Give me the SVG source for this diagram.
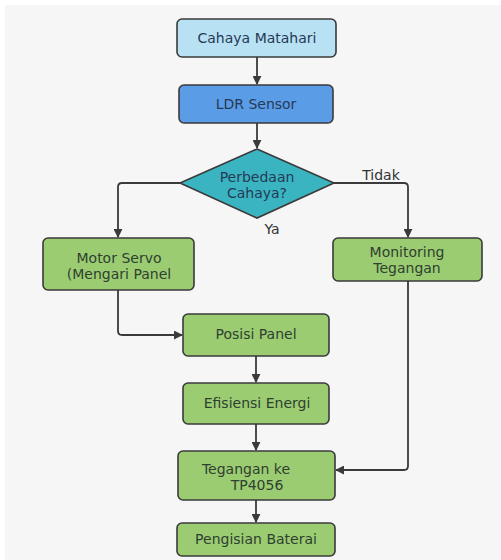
<svg xmlns="http://www.w3.org/2000/svg" width="501" height="560" viewBox="0 0 501 560">
<defs>
<marker id="ah" viewBox="0 0 10 10" refX="9" refY="5" markerWidth="9" markerHeight="9" markerUnits="userSpaceOnUse" orient="auto">
<path d="M0,0 L10,5 L0,10 z" fill="#3a3a3a"/>
</marker>
</defs>
<style>
.box{stroke:#3a3a3a;stroke-width:1.6}
.g{fill:#9ccc72}
.t{font-family:"DejaVu Sans",Verdana,sans-serif;font-size:14px;fill:#2e4030;text-anchor:middle}
.tb{fill:#253a55}
.c{fill:none;stroke:#3a3a3a;stroke-width:1.8}
.lbl{font-family:"DejaVu Sans",Verdana,sans-serif;font-size:14px;fill:#333;text-anchor:middle}
</style>
<rect x="0" y="0" width="501" height="560" fill="#ffffff"/>
<rect x="5" y="5" width="496" height="555" fill="#f6f6f6"/>
<g id="connectors">
<path class="c" d="M257,57 V84" marker-end="url(#ah)"/>
<path class="c" d="M257,123 V148" marker-end="url(#ah)"/>
<path class="c" d="M180,183 H122 Q118,183 118,187 V237" marker-end="url(#ah)"/>
<path class="c" d="M334,183 H404 Q408,183 408,187 V237" marker-end="url(#ah)"/>
<path class="c" d="M118,290 V331 Q118,335 122,335 H182" marker-end="url(#ah)"/>
<path class="c" d="M256,356 V382" marker-end="url(#ah)"/>
<path class="c" d="M256,424 V450" marker-end="url(#ah)"/>
<path class="c" d="M408,281 V466 Q408,470 404,470 H336" marker-end="url(#ah)"/>
<path class="c" d="M256,500 V522" marker-end="url(#ah)"/>
<text class="lbl" x="381" y="180">Tidak</text>
<text class="lbl" x="272" y="234">Ya</text>
</g>
<g id="cahaya">
<rect class="box" x="177" y="19" width="159" height="38" rx="5" fill="#b9e1f4"/>
<text class="t tb" x="257" y="43">Cahaya Matahari</text>
</g>
<g id="ldr">
<rect class="box" x="179" y="85" width="154" height="38" rx="5" fill="#5b9ce6"/>
<text class="t tb" x="256" y="109">LDR Sensor</text>
</g>
<g id="decision">
<polygon class="box" points="257,149 334,183 257,218 180,183" fill="#3bb4c1"/>
<text class="t tb" x="257" y="181.5">Perbedaan</text>
<text class="t tb" x="257" y="198">Cahaya?</text>
</g>
<g id="motor">
<rect class="box g" x="43" y="238" width="151" height="52" rx="5"/>
<text class="t" x="119" y="262.5">Motor Servo</text>
<text class="t" x="119" y="279">(Mengari Panel</text>
</g>
<g id="monitoring">
<rect class="box g" x="333" y="238" width="149" height="43" rx="5"/>
<text class="t" x="407" y="256.5">Monitoring</text>
<text class="t" x="407" y="273">Tegangan</text>
</g>
<g id="posisi">
<rect class="box g" x="183" y="314" width="146" height="42" rx="5"/>
<text class="t" x="256" y="339">Posisi Panel</text>
</g>
<g id="efisiensi">
<rect class="box g" x="183" y="383" width="146" height="41" rx="5"/>
<text class="t" x="257" y="408">Efisiensi Energi</text>
</g>
<g id="tegangan">
<rect class="box g" x="178" y="451" width="157" height="49" rx="5"/>
<text class="t" x="246" y="473.5">Tegangan ke</text>
<text class="t" x="257" y="490">TP4056</text>
</g>
<g id="pengisian">
<rect class="box g" x="177" y="523" width="158" height="33" rx="5"/>
<text class="t" x="256" y="544">Pengisian Baterai</text>
</g>
</svg>
